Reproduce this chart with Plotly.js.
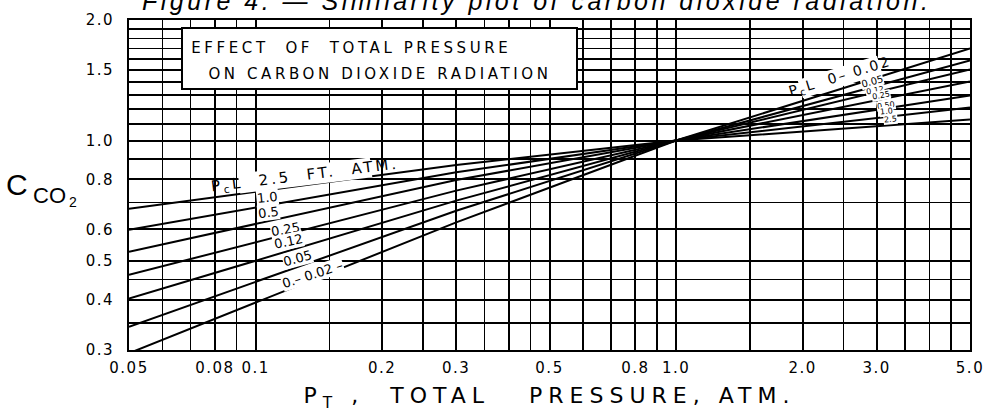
<!DOCTYPE html>
<html><head><meta charset="utf-8">
<script src="https://cdn.plot.ly/plotly-3.0.1.min.js"></script>
<style>
html,body{margin:0;padding:0;background:#fff;}
#chart{width:984px;height:413px;}
g.xtick text{letter-spacing:1.5px;}
g.ytick text{letter-spacing:1.5px;}
text.xtitle{letter-spacing:6px;}
g.annotation[data-index="0"] text{letter-spacing:3.5px;}
g.annotation[data-index="1"] text{letter-spacing:3.6px;}
g.annotation[data-index="2"] text{letter-spacing:3.6px;}
g.annotation[data-index="3"] text{letter-spacing:3px;}
g.annotation[data-index="10"] text{letter-spacing:2px;}
</style>
</head><body><div id="chart"></div>
<script>
// ---- data ----
const pressure = [0.05, 0.3, 1.0, 5.0];           // total pressure, atm
const c_pcl_0_002 = [0.2945, 0.625, 1.0, 1.698];  // PcL 0 - 0.02 ft atm
const c_pcl_005  = [0.343, 0.668, 1.0, 1.585];    // PcL 0.05
const c_pcl_012  = [0.403, 0.708, 1.0, 1.505];    // PcL 0.12
const c_pcl_025  = [0.462, 0.750, 1.0, 1.405];    // PcL 0.25
const c_pcl_05   = [0.528, 0.797, 1.0, 1.296];    // PcL 0.5
const c_pcl_10   = [0.599, 0.833, 1.0, 1.209];    // PcL 1.0
const c_pcl_25   = [0.676, 0.869, 1.0, 1.128];    // PcL 2.5
const seriesNames = ['0–0.02','0.05','0.12','0.25','0.5','1.0','2.5'];

const xTickVals = [0.05,0.08,0.1,0.2,0.3,0.5,0.8,1,2,3,5];
const xTickText = ['0.05','0.08','0.1','0.2','0.3','0.5','0.8','1.0','2.0','3.0','5.0'];
const xGridMinor = [0.06,0.07,0.09,0.15,0.25,0.35,0.4,0.45,0.6,0.7,0.9,1.5,2.5,3.5,4,4.5];
const yTickVals = [0.3,0.4,0.5,0.6,0.8,1.0,1.5,2.0];
const yTickText = ['0.3','0.4','0.5','0.6','0.8','1.0','1.5','2.0'];
const yGridMinor = [0.35,0.45,0.7,0.9,1.1,1.2,1.3,1.4,1.6,1.7,1.8,1.9];

// ---- layout helpers (pixel -> paper) ----
const W=984,H=413,ML=129,MR=14,MT=20,MB=63;
const PW=W-ML-MR, PH=H-MT-MB;
const fx = p => (p-ML)/PW;
const fy = p => (H-MB-p)/PH;

const FONT='DejaVu Sans';
const allSeries=[c_pcl_0_002,c_pcl_005,c_pcl_012,c_pcl_025,c_pcl_05,c_pcl_10,c_pcl_25];
const traces = allSeries.map((ys,i)=>({
  x: pressure, y: ys, type:'scatter', mode:'lines', name: seriesNames[i],
  line:{color:'#000', width:2}, hoverinfo:'skip', showlegend:false
}));

function lab(text, cx, cy, size, angle, extra){
  return Object.assign({xref:'paper', yref:'paper', x:fx(cx), y:fy(cy), text:text,
    showarrow:false, textangle:angle||0, xanchor:'center', yanchor:'middle',
    font:{family:FONT, size:size, color:'#000'}}, extra||{});
}
const wbg = {bgcolor:'#fff', borderpad:0};

const annotations = [
  // 0 partially visible caption at top (cut by the page edge as in the reference)
  lab('Figure 4. — Similarity plot of carbon dioxide radiation.', 536, 1, 25, 0,
      {font:{family:'Liberation Sans', size:25, color:'#000', style:'italic'}}),
  // 1,2 box text
  lab('EFFECT\u00a0 OF\u00a0 TOTAL PRESSURE', 351, 47.5, 15, 0),
  lab('ON CARBON DIOXIDE RADIATION', 380, 74, 15, 0),
  // 3 left labels
  lab('P<sub>c</sub>L\u00a0 2.5\u00a0 FT.\u00a0 ATM.', 305, 175, 15, -7, wbg),
  lab('1.0', 267, 198, 13, -6, wbg),
  lab('0.5', 268, 212, 13, -7, wbg),
  lab('0.25', 285, 229, 13, -10, wbg),
  lab('0.12', 288, 241, 13, -12, wbg),
  lab('0.05', 297, 258, 13, -15, wbg),
  lab('0.– 0.02 –', 312, 274, 13, -18, wbg),
  // 10 right labels
  lab('P<sub>c</sub>L\u00a0 0– 0.02', 840, 77, 14, -17, wbg),
  lab('0.05', 872, 81, 10, -15, wbg),
  lab('0.12', 875, 90, 8, -10, wbg),
  lab('0.25', 881, 95, 8, -10, wbg),
  lab('0.50', 886, 105, 8, -8, wbg),
  lab('1.0', 886, 111, 8, -6, wbg),
  lab('2.5', 890, 119, 8, -5, wbg),
  // y title C_CO2
  lab('C', 17, 184, 30, 0, {font:{family:'Liberation Sans', size:30, color:'#000'}}),
  lab('CO', 49, 195, 22, 0, {font:{family:'Liberation Sans', size:22, color:'#000'}}),
  lab('2', 73, 202, 14, 0, {font:{family:'Liberation Sans', size:14, color:'#000'}})
];

const shapes = [
  {type:'rect', xref:'paper', yref:'paper', x0:fx(182), x1:fx(577), y0:fy(89), y1:fy(28),
   line:{color:'#000', width:2}, fillcolor:'#fff', layer:'above'}
];

const axisCommon = {
  type:'log', showgrid:true, gridcolor:'#000', gridwidth:2,
  showline:true, mirror:true, linecolor:'#000', linewidth:2,
  ticks:'', zeroline:false, automargin:false, tickmode:'array',
  ticklabeloverflow:'allow',
  tickfont:{family:FONT, size:15, color:'#000'}
};

const layout = {
  width:W, height:H, margin:{l:ML, r:MR, t:MT, b:MB},
  paper_bgcolor:'#fff', plot_bgcolor:'#fff', showlegend:false,
  xaxis: Object.assign({}, axisCommon, {
    range:[Math.log10(0.05), Math.log10(5)],
    tickvals:xTickVals, ticktext:xTickText, ticklabelstandoff:3,
    minor:{tickmode:'array', tickvals:xGridMinor, showgrid:true, gridcolor:'#000', gridwidth:1.5, ticks:''},
    title:{text:'P<sub>T</sub> ,\u00a0 TOTAL\u00a0\u00a0 PRESSURE, ATM.', standoff:12,
      font:{family:FONT, size:22, color:'#000'}}
  }),
  yaxis: Object.assign({}, axisCommon, {
    range:[Math.log10(0.3), Math.log10(2)],
    tickvals:yTickVals, ticktext:yTickText, ticklabelstandoff:10,
    minor:{tickmode:'array', tickvals:yGridMinor, showgrid:true, gridcolor:'#000', gridwidth:1.5, ticks:''}
  }),
  annotations: annotations, shapes: shapes
};

Plotly.newPlot('chart', traces, layout, {staticPlot:true, displayModeBar:false});
</script>
</body></html>
